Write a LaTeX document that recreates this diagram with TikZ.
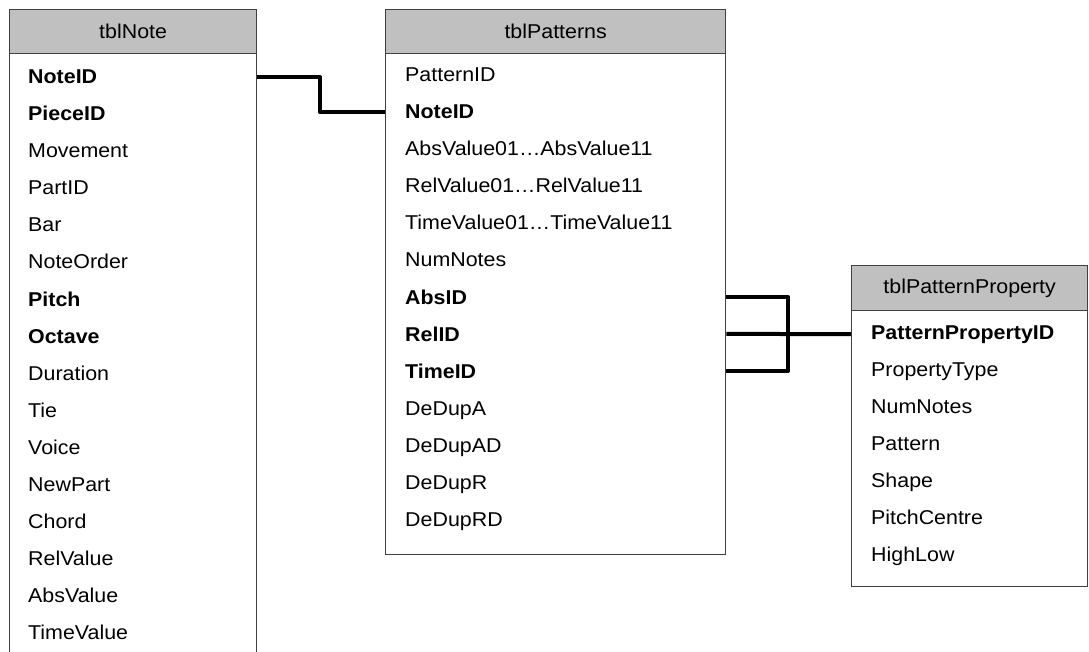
\documentclass[tikz,border=0pt]{standalone}
\usepackage{fontspec}
\setmainfont[FakeStretch=1.07]{Liberation Sans}
\definecolor{hdrgray}{HTML}{C0C0C0}
\definecolor{framegray}{HTML}{404040}
\begin{document}
\begin{tikzpicture}[x=1pt,y=-1pt,
  tblhead/.style={draw=framegray, line width=1.3pt, fill=hdrgray, anchor=north west,
    inner sep=0pt, font=\fontsize{20}{24}\selectfont},
  tblbody/.style={draw=framegray, line width=1.3pt, fill=white, anchor=north west, inner sep=0pt},
  field/.style={anchor=base west, inner sep=0pt, font=\fontsize{20}{24}\selectfont},
  keyfield/.style={field, font=\fontsize{20}{24}\selectfont\bfseries},
  link/.style={line width=4pt, line join=round}]
\useasboundingbox (0,0) rectangle (1089,652);
\clip (0,0) rectangle (1089,652);

% tblNote
\node[tblbody, minimum width=247, minimum height=640] (note) at (9,53) {};
\node[tblhead, minimum width=247, minimum height=44] (noteh) at (9,9) {};
\node at (noteh.center) [font=\fontsize{20}{24}\selectfont] (notet) {tblNote};
\foreach \t [count=\i from 0] in {NoteID,PieceID} {
  \node[keyfield] (n\i) at (28,{84+37*\i}) {\t};
}
\foreach \t [count=\i from 2] in {Movement,PartID,Bar,NoteOrder} {
  \node[field] (n\i) at (28,{84+37*\i}) {\t};
}
\foreach \t [count=\i from 6] in {Pitch,Octave} {
  \node[keyfield] (n\i) at (28,{84+37*\i}) {\t};
}
\foreach \t [count=\i from 8] in {Duration,Tie,Voice,NewPart,Chord,RelValue,AbsValue,TimeValue} {
  \node[field] (n\i) at (28,{84+37*\i}) {\t};
}

% tblPatterns
\node[tblbody, minimum width=340, minimum height=501] (pat) at (385,53) {};
\node[tblhead, minimum width=340, minimum height=44] (path) at (385,9) {};
\node at (path.center) [font=\fontsize{20}{24}\selectfont] (patt) {tblPatterns};
\node[field] (p0) at (405,82) {PatternID};
\node[keyfield] (p1) at (405,119) {NoteID};
\foreach \t [count=\i from 2] in {AbsValue01…AbsValue11,RelValue01…RelValue11,TimeValue01…TimeValue11,NumNotes} {
  \node[field] (p\i) at (405,{82+37*\i}) {\t};
}
\foreach \t [count=\i from 6] in {AbsID,RelID,TimeID} {
  \node[keyfield] (p\i) at (405,{82+37*\i}) {\t};
}
\foreach \t [count=\i from 9] in {DeDupA,DeDupAD,DeDupR,DeDupRD} {
  \node[field] (p\i) at (405,{82+37*\i}) {\t};
}

% tblPatternProperty
\node[tblbody, minimum width=236, minimum height=276] (prop) at (851,310) {};
\node[tblhead, minimum width=236, minimum height=45] (proph) at (851,265) {};
\node at (proph.center) [font=\fontsize{20}{24}\selectfont] (propt) {tblPatternProperty};
\node[keyfield] (q0) at (871,339) {PatternPropertyID};
\foreach \t [count=\i from 1] in {PropertyType,NumNotes,Pattern,Shape,PitchCentre,HighLow} {
  \node[field] (q\i) at (871,{339+37*\i}) {\t};
}

% relationships
\coordinate (nj) at (320,0);
\draw[link] (note.east |- n0) -| (nj |- p1) -- (pat.west |- p1);
\coordinate (pj) at (788,0);
\draw[link] (pat.east |- p6) -| (pj |- p8) -- (pat.east |- p8);
\draw[link] (pat.east |- p7) -- (prop.west |- q0);
\end{tikzpicture}
\end{document}
